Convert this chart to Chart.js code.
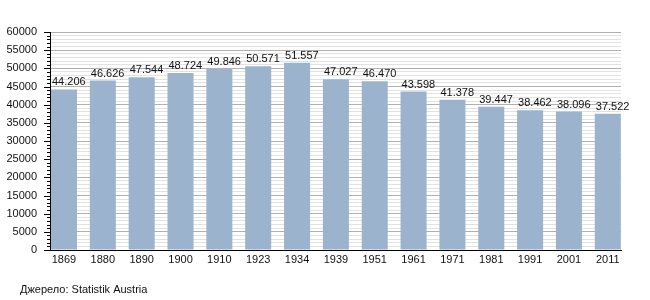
<!DOCTYPE html>
<html>
<head>
<meta charset="utf-8">
<script src="https://cdn.jsdelivr.net/npm/chart.js@4"></script>
<style>
  body { margin: 0; background: #fff; }
  #wrap { width: 650px; height: 300px; }
</style>
</head>
<body>
<div id="wrap"><canvas id="popChart" width="650" height="300"></canvas></div>
<script>
const years = ['1869', '1880', '1890', '1900', '1910', '1923', '1934', '1939', '1951', '1961', '1971', '1981', '1991', '2001', '2011'];
const population = [44206, 46626, 47544, 48724, 49846, 50571, 51557, 47027, 46470, 43598, 41378, 39447, 38462, 38096, 37522];
const sourceText = 'Джерело: Statistik Austria';

Chart.defaults.font.family = '"Liberation Sans", Arial, sans-serif';
Chart.defaults.font.size = 11;
Chart.defaults.color = '#111';

// value labels over bars, source line, y tick marks
const extras = {
    id: 'extras',
    afterDatasetsDraw(chart) {
        const ctx = chart.ctx;
        const meta = chart.getDatasetMeta(0);
        ctx.save();
        ctx.font = '11px "Liberation Sans", Arial, sans-serif';
        ctx.fillStyle = '#111';
        ctx.textAlign = 'left';
        ctx.textBaseline = 'alphabetic';
        meta.data.forEach((bar, i) => {
            ctx.fillText(population[i].toLocaleString('de-DE'), bar.x - bar.width / 2 + 1, bar.y - 4);
        });
        ctx.restore();
    },
    afterDraw(chart) {
        const ctx = chart.ctx;
        const y = chart.scales.y;
        ctx.save();
        ctx.strokeStyle = '#000';
        ctx.lineWidth = 1;
        for (let v = 0; v <= 60000; v += 1000) {
            const py = Math.round(y.getPixelForValue(v)) + 0.5;
            const len = v % 5000 === 0 ? 6 : 3;
            ctx.beginPath();
            ctx.moveTo(y.right - len, py);
            ctx.lineTo(y.right, py);
            ctx.stroke();
        }
        ctx.font = '11px "Liberation Sans", Arial, sans-serif';
        ctx.fillStyle = '#111';
        ctx.textBaseline = 'middle';
        ctx.fillText(sourceText, 20, 290);
        ctx.restore();
    }
};

new Chart(document.getElementById('popChart'), {
    type: 'bar',
    data: {
        datasets: [{
            data: population.map((v, i) => ({ x: i, y: v })),
            backgroundColor: '#9bb3cd',
            categoryPercentage: 0.67,
            barPercentage: 1.0,
        }]
    },
    plugins: [extras],
    options: {
        responsive: false,
        animation: false,
        layout: { padding: { top: 32, right: 29, left: 0, bottom: 0 } },
        plugins: { legend: { display: false }, tooltip: { enabled: false } },
        scales: {
            x: {
                type: 'linear',
                min: -0.36,
                max: 14.34,
                offset: false,
                grid: { display: false, drawTicks: false },
                border: { color: '#000' },
                ticks: {
                    autoSkip: false,
                    maxRotation: 0,
                    padding: 3,
                    color: '#111',
                    callback: v => years[v]
                },
                afterBuildTicks: s => { s.ticks = years.map((_, i) => ({ value: i })); },
                afterFit: s => { s.height = 50; }
            },
            y: {
                min: 0,
                max: 60000,
                border: { color: '#000' },
                grid: {
                    drawTicks: false,
                    color: c => (c.tick.value % 5000 === 0 ? '#b0b0b0' : '#e2e2e2')
                },
                ticks: {
                    stepSize: 1000,
                    autoSkip: false,
                    maxTicksLimit: 100,
                    padding: 13,
                    color: '#111',
                    callback: v => (v % 5000 === 0 ? String(v) : '')
                },
                afterFit: s => { s.width = 50; }
            }
        }
    }
});
</script>
</body>
</html>
